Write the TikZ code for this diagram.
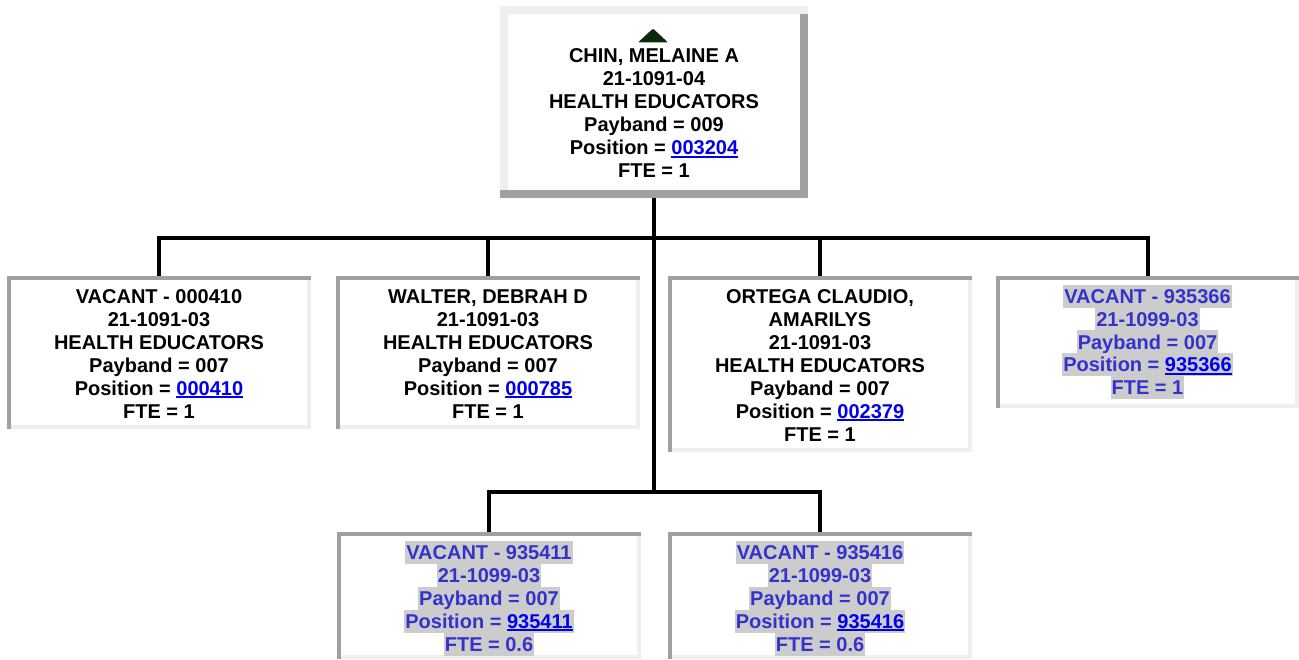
\documentclass[tikz,border=0pt]{standalone}
\usepackage{fontspec}
\setmainfont{Liberation Sans}
\definecolor{vblue}{HTML}{3333CC}
\definecolor{lblue}{HTML}{0000EE}
\definecolor{hlgray}{HTML}{CCCCCC}
\definecolor{bdark}{HTML}{A0A0A0}
\definecolor{blight}{HTML}{EFEFEF}
\definecolor{tricol}{HTML}{0B2A0B}
\newcommand\sline{\rule[-4.5pt]{0pt}{23pt}}
\newcommand\lnk[1]{{\color{lblue}\setbox0\hbox{#1}\rlap{\rule[-3.2pt]{\wd0}{2pt}}\box0}}
\newcommand\hl[1]{{\setlength\fboxsep{0pt}\colorbox{hlgray}{\sline\kern1pt#1\kern1pt}}}
\newcommand\insetframe[1]{%
  \fill[bdark] (#1.north west) rectangle ([yshift=-4pt]#1.north east);
  \fill[bdark] (#1.north west) rectangle ([xshift=4pt]#1.south west);
  \fill[blight] ([xshift=-4pt,yshift=-4pt]#1.north east) rectangle (#1.south east);
  \fill[blight] ([xshift=4pt,yshift=4pt]#1.south west) rectangle (#1.south east);}
\newcommand\outsetframe[1]{%
  \fill[blight] (#1.north west) rectangle ([yshift=-8pt]#1.north east);
  \fill[blight] (#1.north west) rectangle ([xshift=8pt]#1.south west);
  \fill[bdark] ([xshift=-8pt,yshift=-8pt]#1.north east) rectangle (#1.south east);
  \fill[bdark] ([yshift=8pt]#1.south west) rectangle (#1.south east);}
\begin{document}
\begin{tikzpicture}[x=1pt,y=-1pt,
  boxn/.style={rectangle, inner sep=0pt, fill=white},
  txt/.style={anchor=north, inner sep=0pt, align=center, text=black,
    font=\fontsize{20}{23}\selectfont\bfseries},
  vtxt/.style={txt, text=vblue},
  conn/.style={line width=4pt, black}]
\useasboundingbox[fill=white] (0,0) rectangle (1299,660);

% boxes
\node[boxn, minimum width=308pt, minimum height=192pt] (top) at (654,102) {};
\node[boxn, minimum width=304pt, minimum height=153pt] (b1) at (159,352.5) {};
\node[boxn, minimum width=304pt, minimum height=153pt] (b2) at (488,352.5) {};
\node[boxn, minimum width=304pt, minimum height=176pt] (b3) at (820,364) {};
\node[boxn, minimum width=303pt, minimum height=132pt] (b4) at (1147.5,342) {};
\node[boxn, minimum width=304pt, minimum height=127pt] (b5) at (489,595.5) {};
\node[boxn, minimum width=304pt, minimum height=127pt] (b6) at (820,595.5) {};

\outsetframe{top}
\insetframe{b1}
\insetframe{b2}
\insetframe{b3}
\insetframe{b4}
\insetframe{b5}
\insetframe{b6}

% connectors
\coordinate (j1) at (654,238);
\coordinate (j2) at (654,492);
\draw[conn] (top.south) -- (j2);
\draw[conn] (b1.north) |- (j1);
\draw[conn] (b2.north) |- (j1);
\draw[conn] (b3.north) |- (j1);
\draw[conn] (b4.north) |- (j1);
\draw[conn] (b5.north) |- (j2);
\draw[conn] (b6.north) |- (j2);

% triangle marker
\fill[tricol, rounded corners=1.2pt] (638,42.5) -- (653,28.5) -- (668,42.5) -- cycle;

% texts
\node[txt] (top-t) at ([yshift=-38.5pt]top.north) {\sline CHIN, MELAINE A\\ \sline 21-1091-04\\ \sline HEALTH EDUCATORS\\ \sline Payband = 009\\ \sline Position = \lnk{003204}\\ \sline FTE = 1};
\node[txt] (b1-t) at ([yshift=-8.5pt]b1.north) {\sline VACANT - 000410\\ \sline 21-1091-03\\ \sline HEALTH EDUCATORS\\ \sline Payband = 007\\ \sline Position = \lnk{000410}\\ \sline FTE = 1};
\node[txt] (b2-t) at ([yshift=-8.5pt]b2.north) {\sline WALTER, DEBRAH D\\ \sline 21-1091-03\\ \sline HEALTH EDUCATORS\\ \sline Payband = 007\\ \sline Position = \lnk{000785}\\ \sline FTE = 1};
\node[txt] (b3-t) at ([yshift=-8.5pt]b3.north) {\sline ORTEGA CLAUDIO,\\ \sline AMARILYS\\ \sline 21-1091-03\\ \sline HEALTH EDUCATORS\\ \sline Payband = 007\\ \sline Position = \lnk{002379}\\ \sline FTE = 1};
\node[vtxt] (b4-t) at ([yshift=-8.5pt]b4.north) {\hl{VACANT - 935366}\\ \hl{21-1099-03}\\ \hl{Payband = 007}\\ \hl{Position = \lnk{935366}}\\ \hl{FTE = 1}};
\node[vtxt] (b5-t) at ([yshift=-8.5pt]b5.north) {\hl{VACANT - 935411}\\ \hl{21-1099-03}\\ \hl{Payband = 007}\\ \hl{Position = \lnk{935411}}\\ \hl{FTE = 0.6}};
\node[vtxt] (b6-t) at ([yshift=-8.5pt]b6.north) {\hl{VACANT - 935416}\\ \hl{21-1099-03}\\ \hl{Payband = 007}\\ \hl{Position = \lnk{935416}}\\ \hl{FTE = 0.6}};
\end{tikzpicture}
\end{document}
